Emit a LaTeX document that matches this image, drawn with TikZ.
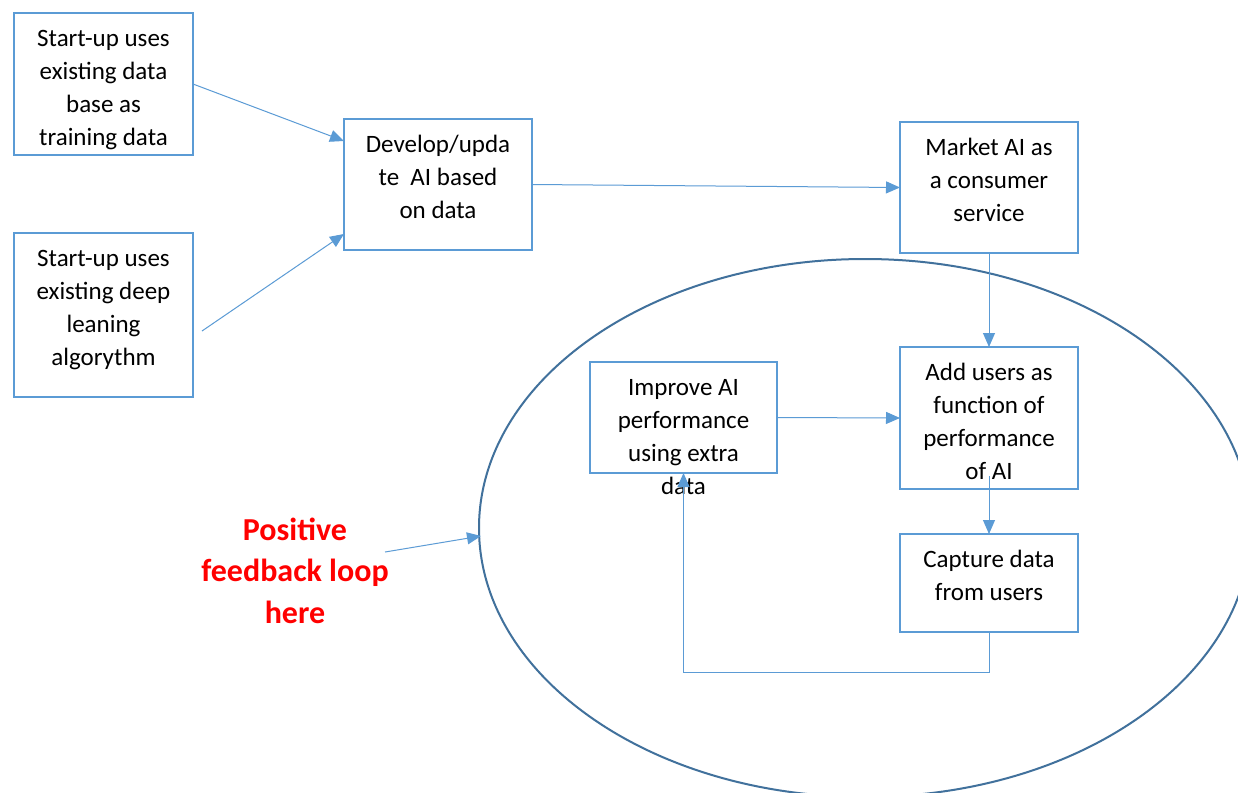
\documentclass[tikz,border=0pt]{standalone}
\usepackage{fontspec}
\setmainfont{Carlito}
\usetikzlibrary{arrows.meta,calc,shapes.geometric}
\definecolor{boxblue}{HTML}{5B9BD5}
\definecolor{ellblue}{HTML}{41719C}
\definecolor{loopred}{HTML}{FF0000}
\begin{document}
\begin{tikzpicture}[x=0.5pt,y=-0.5pt,
  box/.style={draw=boxblue, line width=0.75pt, inner sep=0pt, outer sep=0pt, rectangle},
  txt/.style={align=center, inner sep=0pt, outer sep=0pt, anchor=north, font=\fontsize{12.5}{16.5}\selectfont},
  redtxt/.style={align=center, inner sep=0pt, anchor=north, text=loopred, font=\fontsize{16}{20.75}\selectfont\bfseries},
  arr/.style={draw=boxblue, line width=0.5pt, -{Triangle[length=7pt,width=6pt]}},
  loopline/.style={draw=ellblue, line width=1pt, ellipse, inner sep=0pt, outer sep=0pt}]
\useasboundingbox (0,0) rectangle (1238,793);
\fill[white] (0,0) rectangle (1238,793);
\begin{scope}
\clip (0,0) rectangle (1238,793);
\node[loopline, minimum width=386pt, minimum height=269pt] (loop) at (865,528) {};
\end{scope}
% boxes
\node[box, minimum width=89.5pt, minimum height=71pt] (b1) at (103.5,84) {};
\node[box, minimum width=89.5pt, minimum height=82pt] (b2) at (103.5,315) {};
\node[box, minimum width=94pt, minimum height=65.5pt] (dev) at (438,184.5) {};
\node[box, minimum width=89pt, minimum height=65.5pt] (mkt) at (989,187.5) {};
\node[box, minimum width=89pt, minimum height=71pt] (add) at (989,418) {};
\node[box, minimum width=93.5pt, minimum height=55.5pt] (imp) at (683.5,417.5) {};
\node[box, minimum width=89pt, minimum height=49pt] (cap) at (989,583) {};
% texts
\node[txt] (t1) at ($(b1.north)+(0,13)$) {\rule{0pt}{10pt}Start-up uses\\existing data\\base as\\training data};
\node[txt] (t2) at ($(b2.north)+(0,13)$) {\rule{0pt}{10pt}Start-up uses\\existing deep\\leaning\\algorythm};
\node[txt] (t3) at ($(dev.north)+(0,13)$) {\rule{0pt}{10pt}Develop/upda\\te\ \ AI based\\on data};
\node[txt] (t4) at ($(mkt.north)+(0,13)$) {\rule{0pt}{10pt}Market AI as\\a consumer\\service};
\node[txt] (t5) at ($(add.north)+(0,13)$) {\rule{0pt}{10pt}Add users as\\function of\\performance\\of AI};
\node[txt] (t6) at ($(imp.north)+(0,13)$) {\rule{0pt}{10pt}Improve AI\\performance\\using extra\\data};
\node[txt] (t7) at ($(cap.north)+(0,13)$) {\rule{0pt}{10pt}Capture data\\from users};
\node[redtxt] (red) at (295,516) {\rule{0pt}{12pt}Positive\\feedback loop\\here};
% connectors
\coordinate (s2) at (202,331);
\coordinate (sr) at (385,552);
\draw[arr] (b1.east) -- ($(dev.west)+(0,-43.5)$);
\draw[arr] (s2) -- ($(dev.west)+(0,49.5)$);
\draw[arr] (dev.east) -- (mkt.west);
\draw[arr] (mkt.south) -- (add.north);
\draw[arr] (imp.east) -- (add.west);
\draw[arr] ($(add.south)+(0,-13)$) -- (cap.north);
\draw[arr] (cap.south) -- ++(0,40) -| (imp.south);
\draw[arr] (sr) -- ($(loop.west)+(2,8)$);
\end{tikzpicture}
\end{document}
